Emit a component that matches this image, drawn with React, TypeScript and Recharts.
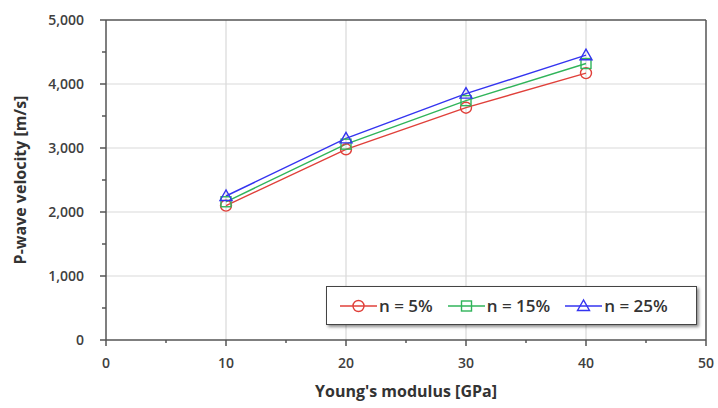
import React from 'react';
import { LineChart, Line, XAxis, YAxis, ReferenceLine, Legend } from 'recharts';

const modulus = [10, 20, 30, 40];
const n5 = [2100, 2980, 3630, 4170];
const n15 = [2160, 3060, 3740, 4320];
const n25 = [2250, 3150, 3850, 4450];

const xTicks = [0, 5, 10, 15, 20, 25, 30, 35, 40, 45, 50];
const yTicks = [0, 500, 1000, 1500, 2000, 2500, 3000, 3500, 4000, 4500, 5000];
const xGrid = [10, 20, 30, 40];
const yGrid = [1000, 2000, 3000, 4000];

const seriesKeys = ['a', 'b', 'c'];
const seriesNames = ['n = 5%', 'n = 15%', 'n = 25%'];
const seriesColors = ['#e0403a', '#30b45a', '#3434f0'];
const seriesShapes = ['circle', 'square', 'triangle'];

const data = modulus.map((m, i) => ({ x: m, a: n5[i], b: n15[i], c: n25[i] }));

const FONT = '"Open Sans", "Liberation Sans", sans-serif';
const AXIS = '#555555';

function Marker({ shape, cx, cy, color }: any) {
  if (cx == null || cy == null) return null;
  if (shape === 'circle') {
    return <circle cx={cx} cy={cy} r={5.5} fill="none" stroke={color} strokeWidth={1.4} />;
  }
  if (shape === 'square') {
    return <rect x={cx - 5} y={cy - 5} width={10} height={10} fill="none" stroke={color} strokeWidth={1.4} />;
  }
  const h = 6;
  return (
    <polygon
      points={`${cx},${cy - h} ${cx - 6},${cy + 4.5} ${cx + 6},${cy + 4.5}`}
      fill="none"
      stroke={color}
      strokeWidth={1.4}
    />
  );
}

function XTick(props: any) {
  const { x, y, payload } = props;
  const major = payload.value % 10 === 0;
  return (
    <g>
      <line x1={x} x2={x} y1={y} y2={y + (major ? 6 : 3)} stroke={AXIS} strokeWidth={1.5} />
      {major && (
        <text x={x} y={y + 28} textAnchor="middle" fontFamily={FONT} fontSize={14} fontWeight={600} fill="#404040">
          {payload.value}
        </text>
      )}
    </g>
  );
}

function YTick(props: any) {
  const { x, y, payload } = props;
  const major = payload.value % 1000 === 0;
  return (
    <g>
      <line x1={x - (major ? 6 : 4)} x2={x} y1={y} y2={y} stroke={AXIS} strokeWidth={1.5} />
      {major && (
        <text x={x - 22} y={y + 5} textAnchor="end" fontFamily={FONT} fontSize={14} fontWeight={600} fill="#404040">
          {payload.value.toLocaleString('en-US')}
        </text>
      )}
    </g>
  );
}

function LegendBox() {
  return (
    <div
      style={{
        boxSizing: 'border-box',
        width: '100%',
        height: '100%',
        border: '1.5px solid #444',
        boxShadow: '2px 2px 3px rgba(0,0,0,0.45)',
        background: '#fff',
        display: 'flex',
        alignItems: 'center',
        paddingLeft: 13,
        fontFamily: FONT,
        fontSize: 17,
        fontWeight: 600,
        color: '#333',
        whiteSpace: 'nowrap',
      }}
    >
      {seriesNames.map((name, i) => (
        <div key={name} style={{ display: 'flex', alignItems: 'center', marginRight: 15 }}>
          <svg width={37} height={16}>
            <line x1={0} x2={37} y1={8} y2={8} stroke={seriesColors[i]} strokeWidth={1.4} />
            <Marker shape={seriesShapes[i]} cx={18.5} cy={8} color={seriesColors[i]} />
          </svg>
          <span style={{ marginLeft: 2 }}>{name}</span>
        </div>
      ))}
    </div>
  );
}

export default function App() {
  return (
    <div style={{ position: 'absolute', left: 0, top: 0, background: '#fff' }}>
      <LineChart width={718} height={408} data={data} margin={{ top: 20, right: 12, bottom: 0, left: 0 }}>
        {xGrid.map((v) => (
          <ReferenceLine key={'gx' + v} x={v} stroke="#d9d9d9" strokeWidth={1.2} />
        ))}
        {yGrid.map((v) => (
          <ReferenceLine key={'gy' + v} y={v} stroke="#d9d9d9" strokeWidth={1.2} />
        ))}
        <ReferenceLine y={5000} stroke={AXIS} strokeWidth={1.5} />
        <ReferenceLine x={50} stroke={AXIS} strokeWidth={1.5} />
        <XAxis
          type="number"
          dataKey="x"
          domain={[0, 50]}
          ticks={xTicks}
          interval={0}
          height={68}
          tickSize={0}
          tickMargin={0}
          tickLine={false}
          axisLine={{ stroke: AXIS, strokeWidth: 1.5 }}
          tick={<XTick />}
          label={{
            content: (p: any) => {
              const vb = p.viewBox;
              return (
                <text
                  x={vb.x + vb.width / 2}
                  y={vb.y + 57}
                  textAnchor="middle"
                  fontFamily={FONT}
                  fontSize={16}
                  fontWeight="bold"
                  fill="#333"
                >
                  Young's modulus [GPa]
                </text>
              );
            },
          }}
        />
        <YAxis
          type="number"
          domain={[0, 5000]}
          ticks={yTicks}
          interval={0}
          width={106}
          tickSize={0}
          tickMargin={0}
          tickLine={false}
          axisLine={{ stroke: AXIS, strokeWidth: 1.5 }}
          tick={<YTick />}
          label={{
            content: (p: any) => {
              const vb = p.viewBox;
              const cx = vb.x + 20;
              const cy = vb.y + vb.height / 2;
              return (
                <text
                  x={cx}
                  y={cy}
                  transform={`rotate(-90, ${cx}, ${cy})`}
                  textAnchor="middle"
                  dominantBaseline="central"
                  fontFamily={FONT}
                  fontSize={16}
                  fontWeight="bold"
                  fill="#333"
                >
                  P-wave velocity [m/s]
                </text>
              );
            },
          }}
        />
        {seriesKeys.map((k, i) => (
          <Line
            key={k}
            type="linear"
            dataKey={k}
            name={seriesNames[i]}
            stroke={seriesColors[i]}
            strokeWidth={1.4}
            isAnimationActive={false}
            dot={(p: any) => <Marker key={k + p.index} shape={seriesShapes[i]} cx={p.cx} cy={p.cy} color={seriesColors[i]} />}
            activeDot={false}
          />
        ))}
        <Legend
          layout="horizontal"
          verticalAlign="middle"
          align="center"
          content={() => <LegendBox />}
          wrapperStyle={{ position: 'absolute', left: 326, top: 286, width: 371, height: 39 }}
        />
      </LineChart>
    </div>
  );
}
